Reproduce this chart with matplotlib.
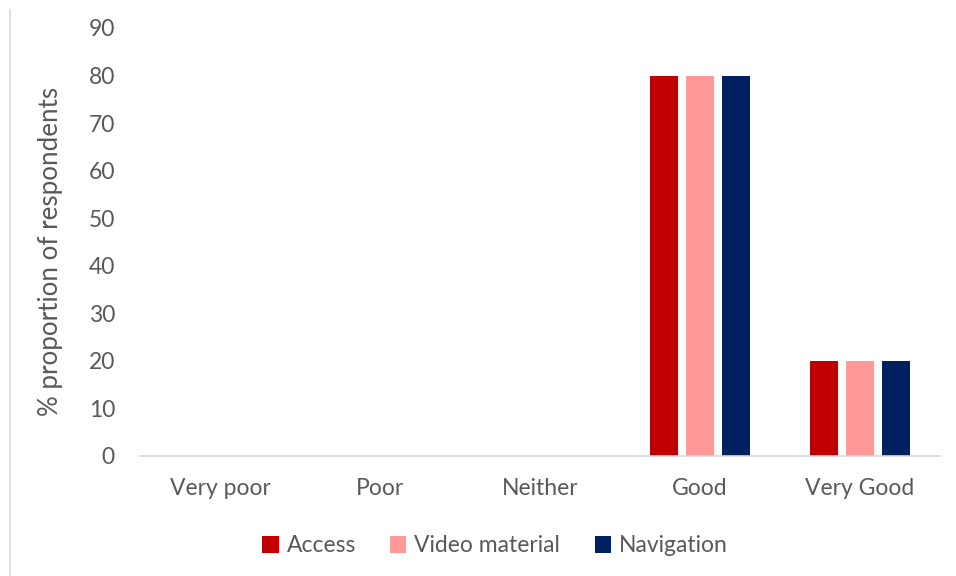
import numpy as np
import matplotlib.pyplot as plt
from matplotlib.lines import Line2D

# data
categories = ['Very poor', 'Poor', 'Neither', 'Good', 'Very Good']
access = [0, 0, 0, 80, 20]
video = [0, 0, 0, 80, 20]
navigation = [0, 0, 0, 80, 20]
series_names = ['Access', 'Video material', 'Navigation']
colors = ['#C00000', '#FF9999', '#002060']

plt.rcParams['font.family'] = ['Lato', 'DejaVu Sans']

fig = plt.figure(figsize=(9.56, 5.76), dpi=100)
ax = fig.add_axes([140 / 956, 1 - 456 / 576, 800 / 956, 428 / 576])

x = np.arange(len(categories))
width = 0.175
step = 0.222
for i, (vals, name, col) in enumerate(zip([access, video, navigation], series_names, colors)):
    ax.bar(x + (i - 1) * step, vals, width, color=col, label=name, zorder=2)

ax.set_xlim(-0.5, len(categories) - 0.5)
ax.set_ylim(0, 90)
ax.set_yticks(range(0, 91, 10))
ax.set_xticks(x)
ax.set_xticklabels(categories)
ax.tick_params(axis='both', length=0, labelsize=16.5, labelcolor='#595959')
ax.tick_params(axis='y', pad=18)
ax.tick_params(axis='x', pad=16)

for s in ['top', 'right', 'left']:
    ax.spines[s].set_visible(False)
ax.spines['bottom'].set_color('#D9D9D9')
ax.spines['bottom'].set_linewidth(1.2)

ax.set_ylabel('% proportion of respondents', fontsize=18.7, color='#595959', labelpad=18)
ax.yaxis.label.set_y(0.477)

handles, labels = ax.get_legend_handles_labels()
fig.legend(handles, labels, loc='center', bbox_to_anchor=(495 / 956, 1 - 546 / 576),
           ncol=3, frameon=False, fontsize=16.5, labelcolor='#595959',
           handlelength=0.7, handleheight=0.7, handletextpad=0.35, columnspacing=1.5)

# left border of the chart area
fig.add_artist(Line2D([10 / 956, 10 / 956], [0, 1 - 10 / 576], color='#D9D9D9', lw=1.2))

fig.savefig('out.png', dpi=100)
